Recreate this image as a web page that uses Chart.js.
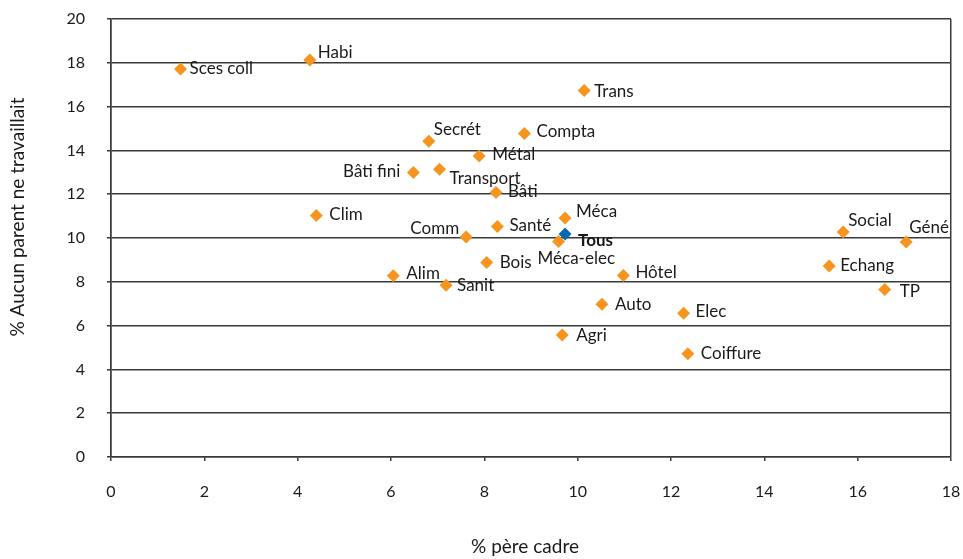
<!DOCTYPE html>
<html>
<head>
<meta charset="utf-8">
<script src="https://cdn.jsdelivr.net/npm/chart.js@4.4.1/dist/chart.umd.min.js"></script>
<style>
  html, body { margin: 0; padding: 0; background: #fff; }
  canvas { display: block; }
</style>
</head>
<body>
<canvas id="scatterChart" width="963" height="559"></canvas>
<script>
// Secteurs
const categories = ['Sces coll', 'Habi', 'Trans', 'Secrét', 'Compta', 'Métal', 'Bâti fini', 'Transport',
  'Bâti', 'Clim', 'Méca', 'Santé', 'Comm', 'Méca-elec', 'Bois', 'Alim', 'Sanit', 'Hôtel', 'Auto',
  'Agri', 'Elec', 'Coiffure', 'Social', 'Géné', 'Echang', 'TP'];
// % père cadre
const pereCadre = [1.49, 4.26, 10.14, 6.81, 8.86, 7.89, 6.48, 7.04, 8.25, 4.40, 9.73, 8.28, 7.61, 9.59,
  8.05, 6.05, 7.18, 10.98, 10.52, 9.67, 12.27, 12.36, 15.69, 17.04, 15.39, 16.58];
// % aucun parent ne travaillait
const aucunParent = [17.72, 18.13, 16.73, 14.42, 14.77, 13.75, 12.99, 13.14, 12.08, 11.03, 10.91, 10.53,
  10.04, 9.84, 8.88, 8.28, 7.84, 8.29, 6.97, 5.57, 6.56, 4.72, 10.27, 9.82, 8.72, 7.65];
// ensemble
const tousLabel = 'Tous';
const tousX = 9.73;
const tousY = 10.18;

const xTicks = [0, 18, 2];
const yTicks = [0, 20, 2];

// where each label sits relative to its marker (px)
const labelOffsets = {
  'Sces coll': [9, 0], 'Habi': [8, -7], 'Trans': [10, 1], 'Secrét': [5, -12], 'Compta': [12, -2],
  'Métal': [13, -1], 'Bâti fini': [-13, -1, 'right'], 'Transport': [10, 9], 'Bâti': [12, -1],
  'Clim': [13, -1], 'Méca': [11, -7], 'Santé': [12, -1], 'Comm': [-7, -9, 'right'],
  'Méca-elec': [-21, 17], 'Bois': [13, 0], 'Alim': [13, -2], 'Sanit': [11, 0], 'Hôtel': [12, -3],
  'Auto': [13, 0], 'Agri': [14, 0], 'Elec': [12, -2], 'Coiffure': [13, 0], 'Social': [5, -12],
  'Géné': [3, -14], 'Echang': [11, -1], 'TP': [15, 2], 'Tous': [13, 6]
};

const FONT = 'Lato';
const gridCol = '#3a3a3a';

const pointLabels = {
  id: 'pointLabels',
  afterDatasetsDraw(chart) {
    const ctx = chart.ctx;
    ctx.save();
    ctx.textBaseline = 'middle';
    ctx.fillStyle = '#1a1a1a';
    chart.data.datasets.forEach((ds, di) => {
      const meta = chart.getDatasetMeta(di);
      meta.data.forEach((pt, i) => {
        const name = ds.names[i];
        const off = labelOffsets[name] || [10, 0];
        ctx.font = (name === tousLabel ? 'bold ' : '') + '17px ' + FONT;
        ctx.textAlign = off[2] || 'left';
        ctx.fillText(name, pt.x + off[0], pt.y + off[1]);
      });
    });
    ctx.restore();
  }
};

const axisTitles = {
  id: 'axisTitles',
  afterDraw(chart) {
    const ctx = chart.ctx;
    ctx.save();
    ctx.fillStyle = '#1a1a1a';
    ctx.font = '19px ' + FONT;
    ctx.textAlign = 'center';
    ctx.textBaseline = 'middle';
    ctx.fillText('% père cadre', 525, 547);
    ctx.translate(18, 217);
    ctx.rotate(-Math.PI / 2);
    ctx.fillText('% Aucun parent ne travaillait', 0, 0);
    ctx.restore();
  }
};

const chartConfig = {
  type: 'scatter',
  data: {
    datasets: [{
      label: 'Secteurs',
      names: categories,
      data: pereCadre.map((x, i) => ({ x: x, y: aucunParent[i] })),
      pointStyle: 'rectRot',
      pointRadius: 6.5,
      pointHoverRadius: 6.5,
      backgroundColor: '#F7941E',
      borderWidth: 0
    }, {
      label: tousLabel,
      names: [tousLabel],
      data: [{ x: tousX, y: tousY }],
      pointStyle: 'rectRot',
      pointRadius: 6.5,
      pointHoverRadius: 6.5,
      backgroundColor: '#0B68AC',
      borderWidth: 0
    }]
  },
  options: {
    responsive: false,
    animation: false,
    layout: { padding: { left: 0, right: 12, top: 19, bottom: 0 } },
    plugins: {
      legend: { display: false },
      tooltip: { enabled: false }
    },
    scales: {
      x: {
        type: 'linear',
        min: xTicks[0], max: xTicks[1],
        afterFit: (scale) => {
          scale.height = 102;
          scale.paddingLeft = 0;
          scale.paddingRight = 0;
        },
        ticks: {
          stepSize: xTicks[2], autoSkip: false, maxRotation: 0, padding: 21,
          color: '#1a1a1a', font: { family: FONT, size: 16 }
        },
        grid: {
          color: (c) => (c.index === 0 || c.index === 9) ? gridCol : 'rgba(0,0,0,0)',
          tickColor: gridCol,
          lineWidth: 1.5,
          tickLength: 4
        },
        border: { color: gridCol, width: 1.5 }
      },
      y: {
        type: 'linear',
        min: yTicks[0], max: yTicks[1],
        afterFit: (scale) => {
          scale.width = 111;
          scale.paddingTop = 0;
          scale.paddingBottom = 0;
        },
        ticks: {
          stepSize: yTicks[2], autoSkip: false, padding: 22,
          color: '#1a1a1a', font: { family: FONT, size: 16 }
        },
        grid: { color: gridCol, tickColor: gridCol, lineWidth: 1.5, tickLength: 4 },
        border: { color: gridCol, width: 1.5 }
      }
    }
  },
  plugins: [pointLabels, axisTitles]
};

window.scatterChart = new Chart(document.getElementById('scatterChart'), chartConfig);
</script>
</body>
</html>
